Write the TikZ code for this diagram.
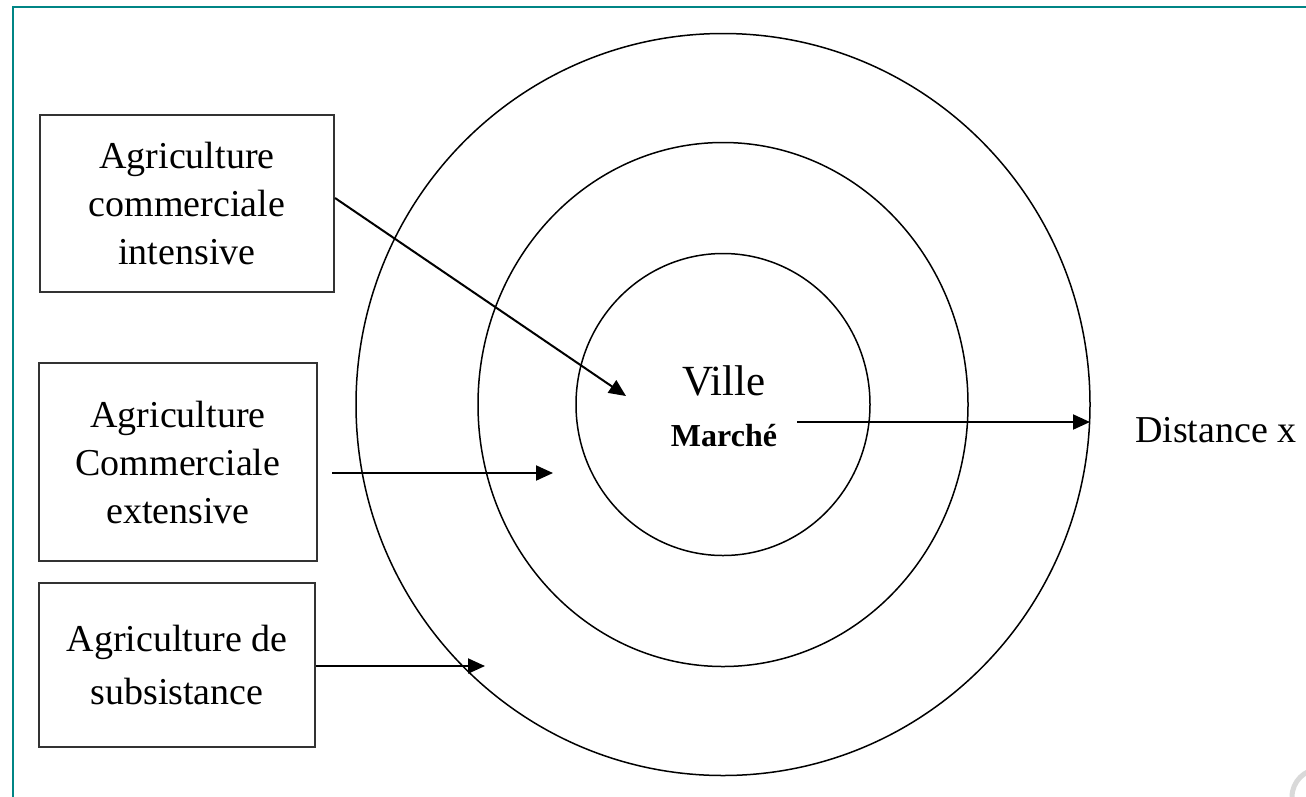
\documentclass[tikz,border=0pt]{standalone}
\usepackage{fontspec}
\setmainfont{Liberation Serif}
\usetikzlibrary{arrows.meta}
\definecolor{frame}{RGB}{0,133,133}
\begin{document}
\begin{tikzpicture}[x=1pt,y=-1pt,
  box/.style={draw=black!80,line width=2pt,align=center,inner sep=0pt,
              font=\fontsize{38}{48}\selectfont},
  ring/.style={draw=black,line width=1.5pt},
  arr/.style={line width=2pt,-{Triangle[length=17pt,width=15pt]}},
  lbl/.style={inner sep=0pt,font=\fontsize{38}{48}\selectfont}]
\useasboundingbox (0,0) rectangle (1306,796);
\fill[white] (0,0) rectangle (1306,796);
\draw[frame,line width=2.2pt] (13,800) -- (13,7) -- (1310,7);
\begin{scope}
\clip (0,0) rectangle (1306,796);
\draw[gray!30,line width=5pt] (1320,797) circle[radius=28pt];
\end{scope}
% rings
\coordinate (c) at (723,404.5);
\draw[ring] (c) ellipse [x radius=367pt, y radius=371pt];
\draw[ring] (c) ellipse [x radius=245pt, y radius=262pt];
\draw[ring] (c) ellipse [x radius=147pt, y radius=151pt];
% boxes
\node[box,minimum width=294pt,minimum height=177pt] (b1) at (187,203) {Agriculture\\commerciale\\intensive};
\node[box,minimum width=278pt,minimum height=198pt] (b2) at (178,462) {Agriculture\\Commerciale\\extensive};
\node[box,minimum width=276pt,minimum height=164pt,font=\fontsize{38}{53}\selectfont] (b3) at (177,665) {Agriculture de\\subsistance};
% center labels
\node[inner sep=0pt,anchor=base,font=\fontsize{43}{50}\selectfont] (ville) at (724,395) {Ville};
\node[inner sep=0pt,anchor=base,font=\fontsize{32}{40}\selectfont\bfseries] (marche) at (724,446) {Marché};
\node[lbl,anchor=base west] (dist) at (1135,442) {Distance x};
% arrow ends
\coordinate (t1) at (626,396);
\coordinate (s2) at (332,473);
\coordinate (t2) at (553,473);
\coordinate (t3) at (485,666);
\coordinate (sm) at (797,422);
\coordinate (tm) at (1090,422);
\draw[arr] ([yshift=5pt]b1.east) -- (t1);
\draw[arr] (s2) -- (t2);
\draw[arr] ([yshift=-1pt]b3.east) -- (t3);
\draw[arr] (sm) -- (tm);
\end{tikzpicture}
\end{document}
